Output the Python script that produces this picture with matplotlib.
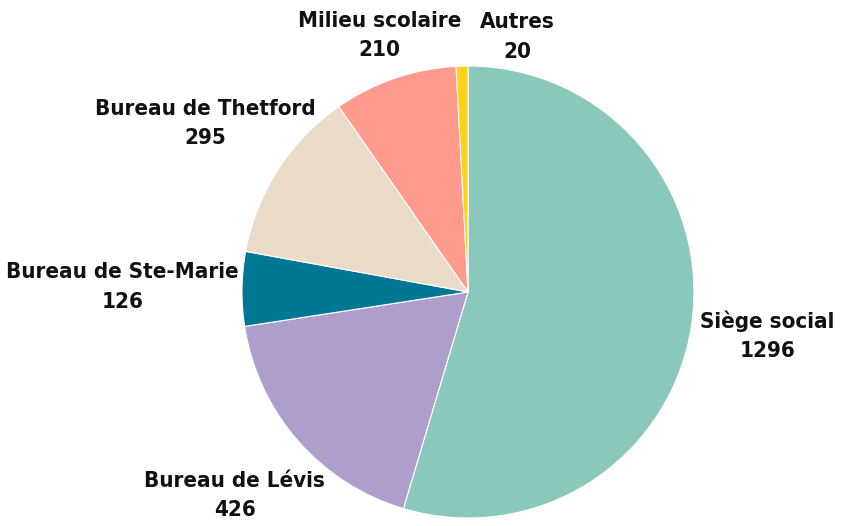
import numpy as np
import matplotlib
matplotlib.use("Agg")
import matplotlib.pyplot as plt

labels = ["Siège social", "Bureau de Lévis", "Bureau de Ste-Marie",
          "Bureau de Thetford", "Milieu scolaire", "Autres"]
values = [1296, 426, 126, 295, 210, 20]
colors = ["#8AC8BC", "#AE9ECB", "#007893", "#EADBC8", "#FF9A8D", "#FFD11A"]

# label placement (distance from centre in radii, angle nudge in degrees)
label_dist = [1.34, 1.37, 1.53, 1.38, 1.20, 1.15]
label_nudge = [0, 0, 0, 0, 0, -12.5]

plt.rcParams['font.family'] = ['DejaVu Sans']

W, H = 850, 526
cx, cy, R = 468, 292, 226
fig = plt.figure(figsize=(W / 100, H / 100), dpi=100)
ax = fig.add_axes([0, 0, 1, 1])

wedges, _ = ax.pie(values, colors=colors, startangle=90, counterclock=False,
                   radius=1, wedgeprops=dict(edgecolor='white', linewidth=0.8))

ax.set_xlim(-cx / R, (W - cx) / R)
ax.set_ylim(-(H - cy) / R, cy / R)
ax.set_aspect('equal')
ax.axis('off')

for w, lab, v, d, n in zip(wedges, labels, values, label_dist, label_nudge):
    ang = np.deg2rad((w.theta1 + w.theta2) / 2 + n)
    ax.text(d * np.cos(ang), d * np.sin(ang), f"{lab}\n{v}",
            ha='center', va='center', fontsize=16, fontweight='bold',
            fontstretch='condensed', linespacing=1.6, color='#111111')

fig.savefig("out.png", dpi=100)
